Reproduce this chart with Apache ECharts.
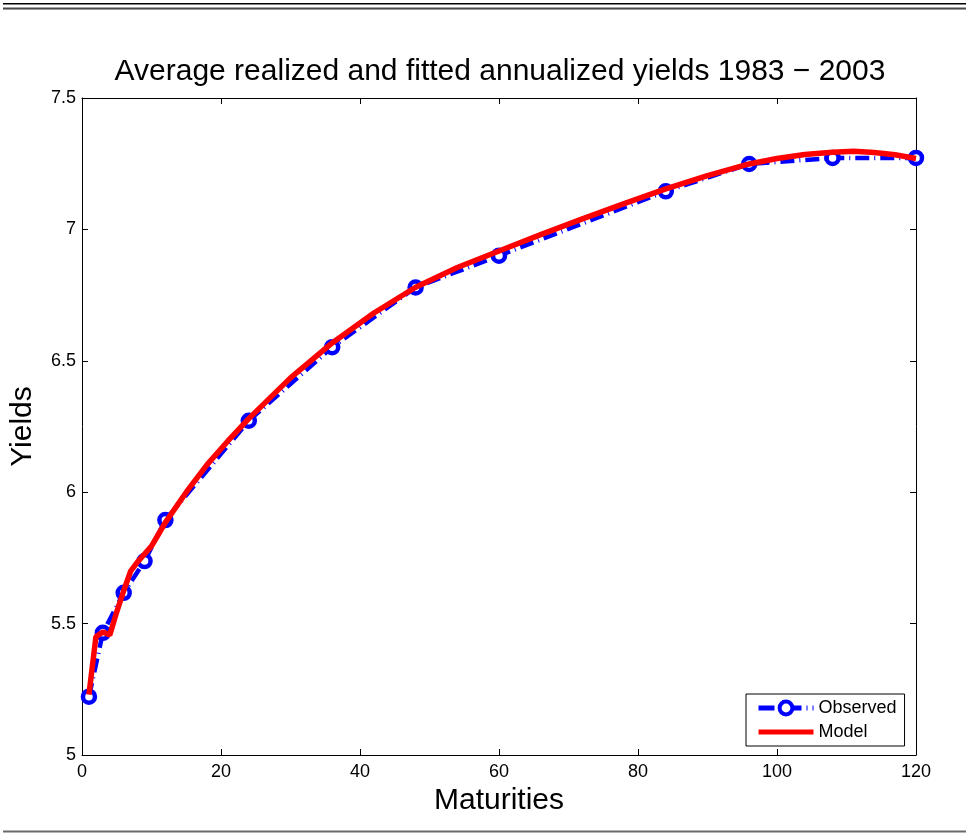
<!DOCTYPE html>
<html>
<head>
<meta charset="utf-8">
<script src="https://cdn.jsdelivr.net/npm/echarts@6/dist/echarts.min.js"></script>
<style>html,body{margin:0;padding:0;background:#fff;}#c{width:966px;height:836px;}</style>
</head>
<body>
<div id="c"></div>
<script>
var titleText = 'Average realized and fitted annualized yields 1983 \u2212 2003';
var xName = 'Maturities';
var yName = 'Yields';
var observedMaturities = [1, 3, 6, 9, 12, 24, 36, 48, 60, 84, 96, 108, 120];
var observedYields = [5.222, 5.465, 5.617, 5.738, 5.894, 6.272, 6.552, 6.779, 6.900, 7.145, 7.249, 7.272, 7.272];
var modelMaturities = [1, 2, 3, 4, 5, 6, 7, 8, 9, 10, 11, 12, 15, 18, 21, 24, 30, 36, 42, 48, 54, 60, 66, 72, 78, 84, 90, 96, 100, 104, 108, 111, 114, 117, 120];
var modelYields = [5.23, 5.45, 5.468, 5.457, 5.545, 5.625, 5.70, 5.735, 5.765, 5.795, 5.84, 5.885, 6.00, 6.105, 6.195, 6.28, 6.435, 6.568, 6.682, 6.78, 6.855, 6.918, 6.98, 7.04, 7.098, 7.154, 7.205, 7.249, 7.270, 7.285, 7.294, 7.297, 7.293, 7.284, 7.27];

var obsData = observedMaturities.map(function (m, i) { return [m, observedYields[i]]; });
var modelData = modelMaturities.map(function (m, i) { return [m, modelYields[i]]; });

var FONT = '"Liberation Sans", Arial, Helvetica, sans-serif';
var chart = echarts.init(document.getElementById('c'), null, { renderer: 'canvas' });

function axisLine() { return { show: true, onZero: false, lineStyle: { color: '#000', width: 1 } }; }
function axisTick() { return { show: true, inside: true, length: 6, lineStyle: { color: '#000', width: 1 } }; }

chart.setOption({
  animation: false,
  backgroundColor: '#fff',
  grid: { left: 81, right: 50, top: 98, bottom: 81, containLabel: false },
  graphic: [
    { type: 'rect', shape: { x: 3, y: 3, width: 963, height: 1.5 }, style: { fill: '#000' }, silent: true },
    { type: 'rect', shape: { x: 3, y: 7.5, width: 963, height: 1.5 }, style: { fill: '#4a4a4a' }, silent: true },
    { type: 'rect', shape: { x: 3, y: 9, width: 963, height: 1 }, style: { fill: '#9a9a9a' }, silent: true },
    { type: 'rect', shape: { x: 3, y: 830.5, width: 963, height: 2 }, style: { fill: '#6a6a6a' }, silent: true },
    { type: 'text', x: 500, y: 72, style: { text: titleText, fill: '#000', font: '30px ' + FONT, textAlign: 'center', textVerticalAlign: 'middle' }, silent: true }
  ],
  legend: {
    orient: 'vertical',
    left: 746,
    top: 694,
    padding: [5, 8, 5, 10],
    itemGap: 6,
    itemWidth: 55,
    itemHeight: 16,
    backgroundColor: '#fff',
    borderColor: '#000',
    borderWidth: 1,
    borderRadius: 0,
    textStyle: { fontFamily: FONT, fontSize: 18, color: '#000' },
    data: [
      { name: 'Observed', lineStyle: { width: 5, color: '#0000ff', type: [16, 5, 1, 5] }, itemStyle: { color: '#fff', borderColor: '#0000ff', borderWidth: 4 } },
      { name: 'Model', lineStyle: { width: 5, color: '#ff0000' } }
    ]
  },
  xAxis: [
    {
      type: 'value', min: 0, max: 120, interval: 20, position: 'bottom',
      name: xName, nameLocation: 'middle', nameGap: 28,
      nameTextStyle: { fontFamily: FONT, fontSize: 30, color: '#000' },
      axisLabel: { fontFamily: FONT, fontSize: 18, color: '#000', margin: 8 },
      axisLine: axisLine(), axisTick: axisTick(), splitLine: { show: false }
    },
    {
      type: 'value', min: 0, max: 120, interval: 20, position: 'top',
      axisLabel: { show: false },
      axisLine: axisLine(), axisTick: axisTick(), splitLine: { show: false }
    }
  ],
  yAxis: [
    {
      type: 'value', min: 5, max: 7.5, interval: 0.5, position: 'left',
      name: yName, nameLocation: 'middle', nameGap: 44, nameRotate: 90,
      nameTextStyle: { fontFamily: FONT, fontSize: 30, color: '#000' },
      axisLabel: { fontFamily: FONT, fontSize: 18, color: '#000', margin: 6 },
      axisLine: axisLine(), axisTick: axisTick(), splitLine: { show: false }
    },
    {
      type: 'value', min: 5, max: 7.5, interval: 0.5, position: 'right',
      axisLabel: { show: false },
      axisLine: axisLine(), axisTick: axisTick(), splitLine: { show: false }
    }
  ],
  series: [
    {
      name: 'Observed',
      type: 'line',
      data: obsData,
      symbol: 'circle',
      symbolSize: 12,
      showAllSymbol: true,
      lineStyle: { color: '#0000ff', width: 4.5, type: [14, 5, 1, 5] },
      itemStyle: { color: '#fff', borderColor: '#0000ff', borderWidth: 4.5 },
      z: 2
    },
    {
      name: 'Model',
      type: 'line',
      data: modelData,
      symbol: 'line',
      showSymbol: false,
      smooth: false,
      lineStyle: { color: '#ff0000', width: 5.5 },
      itemStyle: { color: '#ff0000' },
      z: 3
    }
  ]
});
</script>
</body>
</html>
